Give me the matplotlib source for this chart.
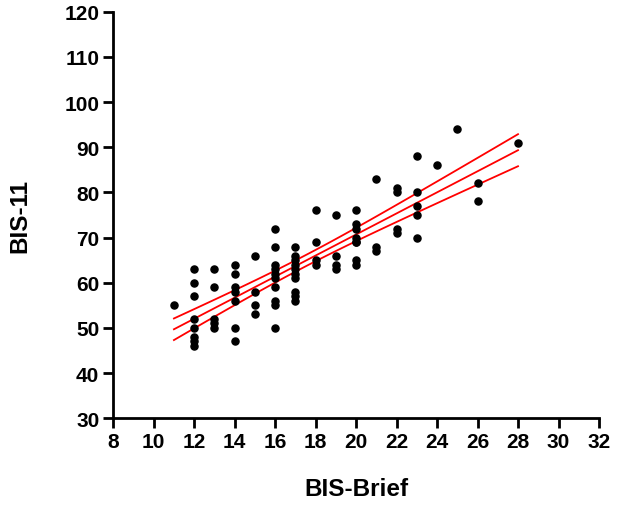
import matplotlib.pyplot as plt
import numpy as np

plt.rcParams['font.family'] = ['Liberation Sans', 'DejaVu Sans']
plt.rcParams['font.weight'] = 'bold'

# BIS-Brief score and BIS-11 score for each participant
bis_brief = ([11] + [12] * 8 + [13] * 5 + [14] * 7 + [15] * 4 + [16] * 10 + [17] * 10
             + [18] * 4 + [19] * 4 + [20] * 8 + [21] * 3 + [22] * 4 + [23] * 5
             + [24] + [25] + [26] * 2 + [28])
bis_11 = ([55]
          + [63, 60, 57, 52, 50, 48, 47, 46]
          + [63, 59, 52, 51, 50]
          + [64, 62, 59, 58, 56, 50, 47]
          + [66, 58, 55, 53]
          + [72, 68, 64, 63, 62, 61, 59, 56, 55, 50]
          + [68, 66, 65, 64, 63, 62, 61, 58, 57, 56]
          + [76, 69, 65, 64]
          + [75, 66, 64, 63]
          + [76, 73, 72, 70, 69, 69, 65, 64]
          + [83, 68, 67]
          + [81, 80, 72, 71]
          + [88, 80, 77, 75, 70]
          + [86]
          + [94]
          + [82, 78]
          + [91])

x = np.array(bis_brief, dtype=float)
y = np.array(bis_11, dtype=float)

# linear fit with 95% confidence band
n = len(x)
slope, intercept = np.polyfit(x, y, 1)
resid = y - (slope * x + intercept)
s = np.sqrt(np.sum(resid ** 2) / (n - 2))
xx = np.linspace(x.min(), x.max(), 100)
yy = slope * xx + intercept
se = s * np.sqrt(1 / n + (xx - x.mean()) ** 2 / np.sum((x - x.mean()) ** 2))
t = 1.99

fig = plt.figure(figsize=(6.22, 5.10), dpi=100)
ax = fig.add_axes([0.182, 0.178, 0.781, 0.797])

ax.plot(xx, yy, color='red', lw=1.3)
ax.plot(xx, yy + t * se, color='red', lw=1.3)
ax.plot(xx, yy - t * se, color='red', lw=1.3)
ax.scatter(x, y, s=26, color='black', zorder=3, clip_on=False)

ax.set_xlim(8, 32)
ax.set_ylim(30, 120)
ax.set_xticks(np.arange(8, 33, 2))
ax.set_yticks(np.arange(30, 121, 10))

for side in ['top', 'right']:
    ax.spines[side].set_visible(False)
for side in ['left', 'bottom']:
    ax.spines[side].set_linewidth(2)
ax.tick_params(width=2, length=7, labelsize=15, pad=3)
for lab in ax.get_xticklabels() + ax.get_yticklabels():
    lab.set_fontweight('bold')

ax.set_xlabel('BIS-Brief', fontsize=17.5, fontweight='bold', labelpad=19)
ax.set_ylabel('BIS-11', fontsize=17.5, fontweight='bold', labelpad=24)

fig.savefig('out.png', dpi=100)
